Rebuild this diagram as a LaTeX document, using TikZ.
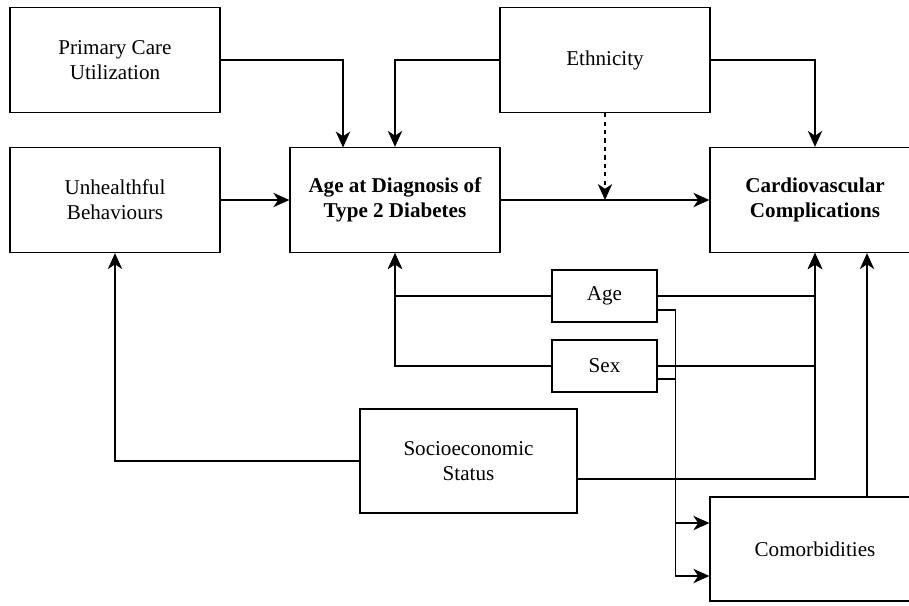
\documentclass[tikz,border=0pt]{standalone}
\usepackage{fontspec}
\setmainfont{Liberation Serif}
\usetikzlibrary{arrows.meta}

\tikzset{arr/.style = {-{Stealth[length=4mm, width=3.6mm, inset=1.2mm]}}}

\begin{document}
\begin{tikzpicture}[line width=0.9pt]
    \useasboundingbox (0,0) rectangle (22.725,-15.125);
    \begin{scope}[every node/.style = {draw, align=center, font=\fontsize{15}{17.7}\selectfont,
                                       minimum width=5.25cm, minimum height=2.625cm, inner sep=0}]
      \node (pcu) at (2.875,  -1.5)   {Primary Care\\Utilization};
      \node (unh) at (2.875,  -5)     {Unhealthful\\Behaviours};
      \node (adx) at (9.875,  -5)     {\textbf{Age at Diagnosis of}\\\textbf{Type 2 Diabetes}};
      \node (eth) at (15.125, -1.5)   {Ethnicity};
      \node (cvd) at (20.375, -5)     {\textbf{Cardiovascular}\\\textbf{Complications}};
      \node (age) at (15.1125, -7.4) [minimum width=2.625cm, minimum height=1.3cm] {Age};
      \node (sex) at (15.1125, -9.15) [minimum width=2.625cm, minimum height=1.3cm] {Sex};
      \node (ses) at (11.7125, -11.525) [minimum width=5.425cm, minimum height=2.6cm] {Socioeconomic\\Status};
      \node (com) at (20.375, -13.725) [minimum height=2.6cm] {Comorbidities};
    \end{scope}
    \coordinate (pcuin) at (8.575, -3.6875);
    \draw[arr] (pcu.east) -| (pcuin);
    \draw[arr] (eth.west) -| (adx.north);
    \draw[arr] (eth.east) -| (cvd.north);
    \draw[arr] (unh) -- (adx);
    \draw[arr] (adx) -- (cvd);
    \draw[arr, dashed] (eth.south) -- (eth.south |- adx.east);
    \draw[arr] (age.west) -| (adx.south);
    \draw[arr] (sex.west) -| (adx.south);
    \draw[arr] (age.east) -| (cvd.south);
    \draw[arr] (sex.east) -| (cvd.south);
    \draw[arr] ([yshift=-0.45cm]ses.east) -| (cvd.south);
    \draw[arr] (ses.west) -| (unh.south);
    \draw[arr] ([xshift=1.3cm]com.north) -- ([xshift=1.3cm]cvd.south);
    \draw[arr] ([yshift=-0.35cm]age.east) -- ++(0.45,0) |- ([yshift=0.65cm]com.west);
    \draw[arr] ([yshift=-0.325cm]sex.east) -- ++(0.45,0) |- ([yshift=-0.675cm]com.west);
  \end{tikzpicture}
\end{document}
